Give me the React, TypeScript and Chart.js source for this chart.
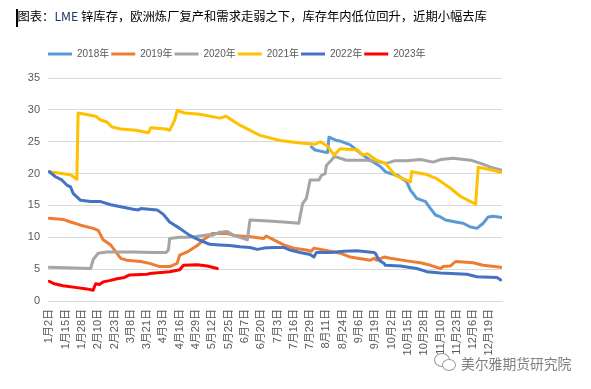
import React, { useEffect, useRef } from "react";
import { Chart, registerables } from "chart.js";

Chart.register(...registerables);

// ---- text ----
const TITLE_PREFIX = "图表：";
const TITLE_LME = "LME";
const TITLE_REST = " 锌库存，欧洲炼厂复产和需求走弱之下，库存年内低位回升，近期小幅去库";
const WATERMARK = "美尔雅期货研究院";

// ---- x axis: day offset from 1月2日, label every 13 days ----
const X_LABELS = [
  "1月2日", "1月15日", "1月28日", "2月10日", "2月23日", "3月8日", "3月21日",
  "4月3日", "4月16日", "4月29日", "5月12日", "5月25日", "6月7日", "6月20日",
  "7月3日", "7月16日", "7月29日", "8月11日", "8月24日", "9月6日", "9月19日",
  "10月2日", "10月15日", "10月28日", "11月10日", "11月23日", "12月6日", "12月19日",
];
const LABEL_STEP_DAYS = 13;
const X_MIN = -1;
const X_MAX = 361;

// ---- y axis ----
const Y_MIN = 0;
const Y_MAX = 35;
const Y_STEP = 5;

// ---- series: [day offset, value] ----
const SERIES_NAMES = ["2018年", "2019年", "2020年", "2021年", "2022年", "2023年"];
const SERIES_COLORS = ["#5B9BD5", "#ED7D31", "#A5A5A5", "#FFC000", "#4472C4", "#FF0000"];

const S2018: [number, number][] = [
  [209, 24.2], [212, 23.7], [219, 23.4], [222, 23.3], [223, 25.7], [229, 25.2],
  [232, 25.1], [240, 24.5], [248, 23.2], [256, 22.1], [264, 21.1], [268, 20.3],
  [272, 20.0], [278, 19.7], [285, 18.7], [288, 17.4], [293, 16.1], [300, 15.6],
  [304, 14.5], [308, 13.5], [312, 13.2], [316, 12.7], [324, 12.4], [330, 12.2],
  [336, 11.6], [341, 11.4], [346, 12.2], [350, 13.2], [354, 13.3], [361, 13.1],
];
const S2019: [number, number][] = [
  [0, 13.0], [11, 12.8], [17, 12.4], [25, 11.9], [35, 11.4], [39, 11.1], [43, 9.6],
  [49, 8.8], [53, 7.7], [57, 6.7], [62, 6.4], [73, 6.2], [80, 5.9], [88, 5.4],
  [96, 5.4], [102, 5.9], [104, 7.2], [110, 7.7], [118, 8.7], [123, 9.6], [130, 10.6],
  [142, 10.6], [147, 10.3], [160, 10.1], [171, 9.8], [173, 10.2], [179, 9.6],
  [187, 8.8], [195, 8.3], [205, 8.0], [209, 7.8], [211, 8.3], [224, 7.8],
  [232, 7.5], [240, 6.9], [256, 6.4], [259, 6.7], [261, 6.4], [267, 6.9], [272, 6.7],
  [285, 6.3], [296, 6.0], [304, 5.6], [312, 5.1], [314, 5.4], [320, 5.5], [324, 6.2],
  [338, 6.0], [346, 5.6], [360, 5.3],
];
const S2020: [number, number][] = [
  [0, 5.3], [33, 5.1], [35, 6.5], [39, 7.5], [46, 7.7], [67, 7.7], [83, 7.6],
  [93, 7.6], [95, 8.0], [96, 9.8], [104, 10.0], [110, 10.0], [116, 10.1],
  [127, 10.4], [130, 10.3], [136, 10.8], [142, 10.9], [147, 10.3], [155, 9.8],
  [158, 9.6], [160, 12.7], [171, 12.6], [187, 12.4], [199, 12.2], [202, 15.3],
  [205, 16.1], [208, 19.0], [215, 19.0], [217, 19.7], [220, 20.0], [221, 21.3],
  [225, 22.1], [227, 22.6], [229, 22.6], [232, 22.4], [237, 22.1], [253, 22.1],
  [264, 21.8], [269, 21.6], [275, 22.0], [285, 22.0], [296, 22.2], [306, 21.8],
  [312, 22.2], [322, 22.4], [336, 22.1], [344, 21.6], [352, 21.0], [361, 20.5],
];
const S2021: [number, number][] = [
  [0, 20.3], [17, 19.8], [22, 19.1], [23, 29.5], [37, 29.0], [41, 28.4], [46, 28.1],
  [50, 27.3], [57, 27.0], [69, 26.8], [79, 26.4], [81, 27.2], [93, 27.0], [96, 26.8],
  [100, 28.4], [102, 29.9], [108, 29.5], [120, 29.3], [136, 28.7], [141, 29.0],
  [152, 27.6], [168, 26.0], [184, 25.2], [200, 24.8], [212, 24.6], [216, 25.0],
  [222, 24.3], [227, 22.9], [232, 23.9], [246, 23.7], [250, 22.9], [254, 23.1],
  [260, 22.2], [268, 21.6], [276, 19.7], [288, 18.7], [289, 20.3], [300, 19.9],
  [309, 19.2], [320, 17.7], [328, 16.4], [336, 15.6], [340, 15.2], [342, 21.0],
  [352, 20.6], [360, 20.2],
];
const S2022: [number, number][] = [
  [0, 20.3], [5, 19.5], [10, 19.0], [14, 18.2], [17, 17.9], [19, 16.9], [25, 15.8],
  [33, 15.6], [41, 15.6], [49, 15.1], [57, 14.8], [67, 14.4], [71, 14.3], [73, 14.5],
  [86, 14.3], [91, 13.6], [96, 12.4], [104, 11.4], [112, 10.3], [118, 9.7],
  [123, 9.3], [128, 8.9], [136, 8.8], [144, 8.7], [152, 8.5], [160, 8.4], [166, 8.1],
  [171, 8.3], [179, 8.4], [187, 8.4], [192, 8.0], [200, 7.6], [208, 7.3], [211, 6.9],
  [213, 7.6], [224, 7.6], [235, 7.8], [245, 7.9], [259, 7.6], [260, 7.5], [263, 6.4],
  [267, 5.9], [268, 5.6], [280, 5.5], [293, 5.1], [301, 4.6], [312, 4.4], [333, 4.2],
  [341, 3.8], [357, 3.7], [360, 3.3],
];
const S2023: [number, number][] = [
  [0, 3.1], [4, 2.7], [11, 2.4], [22, 2.1], [30, 1.9], [35, 1.7], [37, 2.7],
  [40, 2.6], [43, 3.0], [48, 3.2], [54, 3.5], [60, 3.7], [64, 4.1], [78, 4.2],
  [80, 4.3], [96, 4.6], [104, 4.9], [107, 5.6], [118, 5.7], [126, 5.5], [134, 5.1],
];
const SERIES_DATA = [S2018, S2019, S2020, S2021, S2022, S2023];

const AXIS_TEXT = "#595959";
const GRID = "#D9D9D9";
const FONT = 'Liberation Sans, "Noto Sans CJK SC", sans-serif';

const legendPlacer = {
  id: "legendPlacer",
  afterLayout(chart: any) {
    const l = chart.legend;
    if (!l) return;
    const h = l.height;
    l.left = 46;
    l.right = 46 + 520;
    l.width = 520;
    l.top = 47;
    l.bottom = 47 + h;
  },
};

function ZincChart() {
  const ref = useRef<HTMLCanvasElement | null>(null);
  useEffect(() => {
    if (!ref.current) return;
    const datasets = SERIES_DATA.map((series, i) => ({
      label: SERIES_NAMES[i],
      data: series.map(([x, y]) => ({ x, y })),
      borderColor: SERIES_COLORS[i],
      backgroundColor: SERIES_COLORS[i],
      borderWidth: 3,
      pointRadius: 0,
      pointHoverRadius: 0,
      tension: 0,
      fill: false,
      borderCapStyle: "round" as const,
      borderJoinStyle: "round" as const,
      order: SERIES_DATA.length - i,
    }));
    const chart = new Chart(ref.current, {
      type: "line",
      data: { datasets },
      plugins: [legendPlacer],
      options: {
        responsive: false,
        animation: false,
        layout: { padding: { left: 0, right: 89, top: 56, bottom: 28 } },
        plugins: {
          tooltip: { enabled: false },
          legend: {
            display: true,
            position: "top",
            align: "start",
            labels: {
              usePointStyle: true,
              pointStyle: "line",
              pointStyleWidth: 24,
              padding: 2,
              color: AXIS_TEXT,
              font: { family: FONT, size: 10 },
              sort: (a: any, b: any) => a.datasetIndex - b.datasetIndex,
            },
          },
        },
        scales: {
          x: {
            type: "linear",
            min: X_MIN,
            max: X_MAX,
            afterBuildTicks: (axis: any) => {
              axis.ticks = X_LABELS.map((_, i) => ({ value: i * LABEL_STEP_DAYS }));
            },
            afterFit: (axis: any) => {
              axis.height = 60;
            },
            grid: { display: false, drawTicks: false },
            border: { display: true, color: GRID, width: 1 },
            ticks: {
              autoSkip: false,
              maxRotation: 90,
              minRotation: 90,
              padding: 8,
              color: AXIS_TEXT,
              font: { family: FONT, size: 11 },
              callback: (value: any) => {
                const idx = Math.round(Number(value) / LABEL_STEP_DAYS);
                return X_LABELS[idx] ?? "";
              },
            },
          },
          y: {
            min: Y_MIN,
            max: Y_MAX,
            afterFit: (axis: any) => {
              axis.width = 48;
            },
            grid: { color: GRID, drawTicks: false, lineWidth: 1 },
            border: { display: false },
            ticks: {
              stepSize: Y_STEP,
              padding: 8,
              color: AXIS_TEXT,
              font: { family: FONT, size: 11 },
            },
          },
        },
      },
    });
    return () => chart.destroy();
  }, []);
  return (
    <canvas
      ref={ref}
      width={591}
      height={389}
      style={{ position: "absolute", left: 0, top: 0, width: 591, height: 389 }}
    />
  );
}

export default function App() {
  return (
    <div
      style={{
        position: "fixed",
        left: 0,
        top: 0,
        width: 591,
        height: 389,
        background: "#ffffff",
        overflow: "hidden",
      }}
    >
      <ZincChart />
      <div
        style={{
          position: "absolute",
          left: 16,
          top: 9,
          width: 1.5,
          height: 18,
          background: "#000000",
        }}
      />
      <div
        style={{
          position: "absolute",
          left: 17.5,
          top: 7,
          fontFamily: '"Noto Sans CJK SC", sans-serif',
          fontSize: 12.3,
          lineHeight: "18px",
          color: "#000000",
          whiteSpace: "nowrap",
        }}
      >
        {TITLE_PREFIX}
        <span style={{ color: "#1F3864" }}>{TITLE_LME}</span>
        {TITLE_REST}
      </div>
      <div
        style={{
          position: "absolute",
          left: 434,
          top: 353,
          width: 14,
          height: 12,
          borderRadius: "50%",
          border: "1.5px solid #9a9a9a",
        }}
      />
      <div
        style={{
          position: "absolute",
          left: 442,
          top: 359,
          width: 12,
          height: 10,
          borderRadius: "50%",
          border: "1.5px solid #9a9a9a",
          background: "#ffffff",
        }}
      />
      <div
        style={{
          position: "absolute",
          left: 461,
          top: 354,
          fontFamily: '"Noto Sans CJK SC", sans-serif',
          fontSize: 13.8,
          lineHeight: "18px",
          color: "#7f7f7f",
          whiteSpace: "nowrap",
        }}
      >
        {WATERMARK}
      </div>
    </div>
  );
}
